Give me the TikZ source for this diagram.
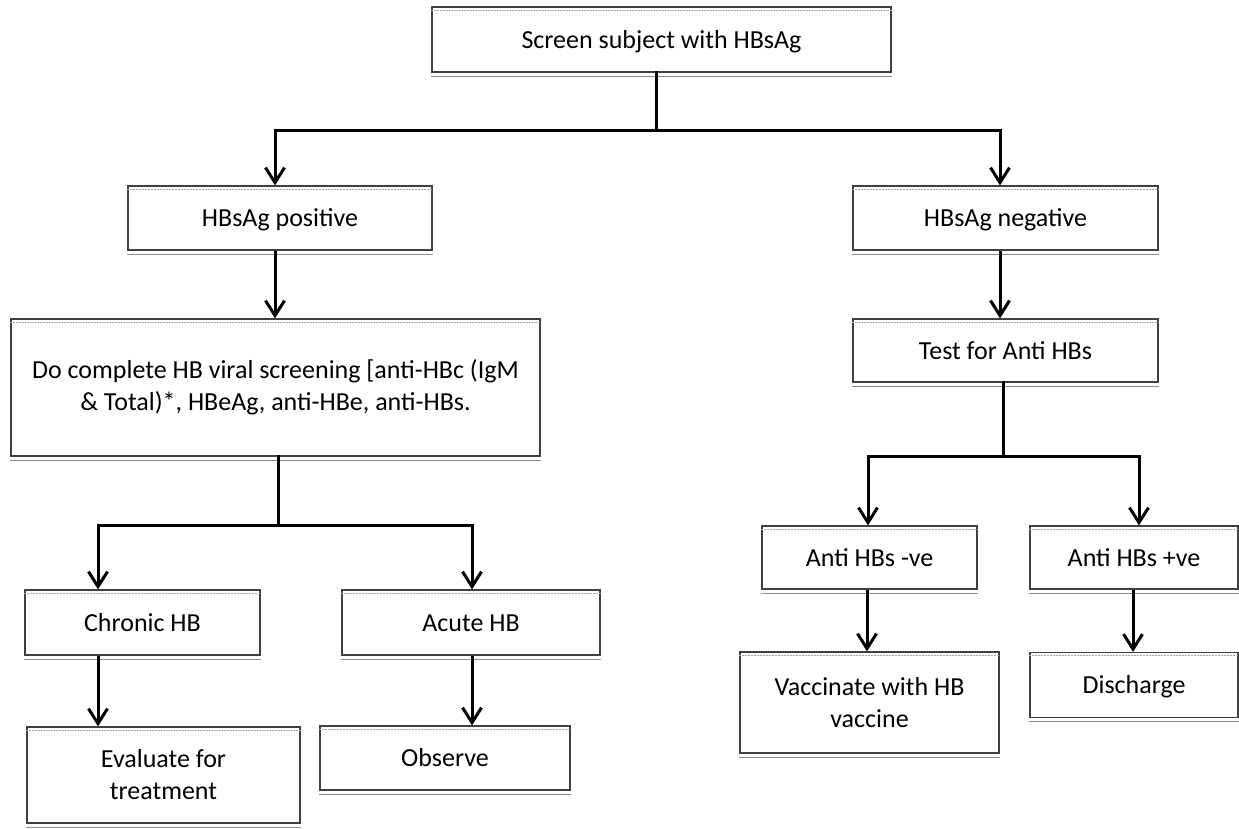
\documentclass[tikz,border=0pt]{standalone}
\usepackage{fontspec}
\setmainfont{Carlito}
\usetikzlibrary{arrows.meta}
\begin{document}
\begin{tikzpicture}[x=1pt,y=-1pt,
  box/.style={draw=black!75, line width=1.2pt, fill=white, inner sep=0pt, align=center,
    font=\fontsize{26}{32}\selectfont},
  one/.style={text height=17pt, text depth=0pt},
  conn/.style={line width=3pt, line cap=rect},
  arr/.style={line width=3pt, -{Straight Barb[length=15pt,width=19pt]}}]
\useasboundingbox (0,0) rectangle (1239,828);
% boxes
\node[box, one, minimum width=459, minimum height=65] (top) at (661.5,39.5) {Screen subject with HBsAg};
\node[box, one, minimum width=304, minimum height=64] (pos) at (280,218) {HBsAg positive};
\node[box, minimum width=529, minimum height=137] (big) at (275.5,387.5) {Do complete HB viral screening [anti-HBc (IgM\\ \& Total)*, HBeAg, anti-HBe, anti-HBs.};
\node[box, one, minimum width=235, minimum height=65] (chronic) at (142.5,622.5) {Chronic HB};
\node[box, one, minimum width=258, minimum height=65] (acute) at (471,622.5) {Acute HB};
\node[box, minimum width=273, minimum height=96] (eval) at (163.5,775) {Evaluate for\\ treatment};
\node[box, one, minimum width=250, minimum height=64] (obs) at (445,758) {Observe};
\node[box, one, minimum width=305, minimum height=64] (neg) at (1005.5,218) {HBsAg negative};
\node[box, one, minimum width=305, minimum height=63] (test) at (1005.5,350.5) {Test for Anti HBs};
\node[box, one, minimum width=215, minimum height=63] (aneg) at (869.5,557.5) {Anti HBs -ve};
\node[box, one, minimum width=208, minimum height=63] (apos) at (1134,557.5) {Anti HBs +ve};
\node[box, minimum width=259, minimum height=101] (vacc) at (869.5,702.5) {Vaccinate with HB\\ vaccine};
\node[box, one, minimum width=208, minimum height=65] (disch) at (1134,685) {Discharge};
% faint double edges
\foreach \n in {top,pos,big,chronic,acute,eval,obs,neg,test,aneg,apos,vacc,disch}{
  \draw[black!35, line width=0.6pt, dash pattern=on 2pt off 1pt] ([yshift=-3.5pt]\n.north west) -- ([yshift=-3.5pt]\n.north east);
  \draw[black!45, line width=0.8pt] ([yshift=-3.5pt]\n.south west) -- ([yshift=-3.5pt]\n.south east);
}
% junction coordinates
\coordinate (j1) at (656,130);
\coordinate (j1l) at (275,130);
\coordinate (j1r) at (1000,130);
\coordinate (j2) at (278,525);
\coordinate (j2l) at (98,525);
\coordinate (j2r) at (472,525);
\coordinate (j3) at (1003,456);
\coordinate (j3l) at (868,456);
\coordinate (j3r) at (1139,456);
% connectors
\draw[conn] (j1 |- top.south) -- (j1);
\draw[conn] (j1l) -- (j1r);
\draw[arr] (j1l) -- (j1l |- pos.north);
\draw[arr] (j1r) -- (j1r |- neg.north);
\draw[arr] (j1l |- pos.south) -- (j1l |- big.north);
\draw[conn] (j2 |- big.south) -- (j2);
\draw[conn] (j2l) -- (j2r);
\draw[arr] (j2l) -- (j2l |- chronic.north);
\draw[arr] (j2r) -- (j2r |- acute.north);
\draw[arr] (j2l |- chronic.south) -- (j2l |- eval.north);
\draw[arr] (j2r |- acute.south) -- (j2r |- obs.north);
\draw[arr] (j1r |- neg.south) -- (j1r |- test.north);
\draw[conn] (j3 |- test.south) -- (j3);
\draw[conn] (j3l) -- (j3r);
\draw[arr] (j3l) -- (j3l |- aneg.north);
\draw[arr] (j3r) -- (j3r |- apos.north);
\draw[arr] ([xshift=-1pt]j3l |- aneg.south) -- ([xshift=-1pt]j3l |- vacc.north);
\draw[arr] ([xshift=-6pt]j3r |- apos.south) -- ([xshift=-6pt]j3r |- disch.north);
\end{tikzpicture}
\end{document}
